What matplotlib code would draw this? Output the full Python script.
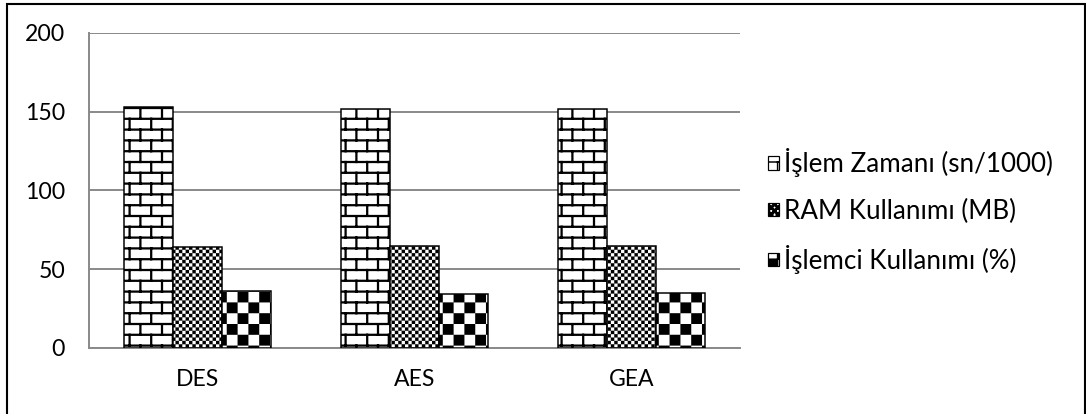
import warnings
warnings.filterwarnings("ignore")
import numpy as np
import matplotlib
matplotlib.use("Agg")
import matplotlib.pyplot as plt
import matplotlib.hatch as mhatch
from matplotlib.path import Path
from matplotlib.patches import Patch, Rectangle

# ---------------- data ----------------
categories = ["DES", "AES", "GEA"]
series_names = ["İşlem Zamanı (sn/1000)", "RAM Kullanımı (MB)", "İşlemci Kullanımı (%)"]
islem_zamani = [153, 151.5, 152]
ram_kullanimi = [64, 65, 65]
islemci_kullanimi = [36, 34, 35]
y_ticks = [0, 50, 100, 150, 200]

# ---------------- custom hatches ----------------
class _SegHatch(mhatch.HatchPatternBase):
    char = None
    def __init__(self, hatch, density):
        self.items = self.build() if (self.char and self.char in hatch) else []
        self.num_vertices = sum(len(it) for it in self.items)
    def set_vertices_and_codes(self, vertices, codes):
        i = 0
        for it in self.items:
            n = len(it)
            vertices[i:i + n] = it
            codes[i:i + n] = self.codes_for(n)
            i += n

class BrickHatch(_SegHatch):
    char = "B"
    def build(self):
        rows, cols = 10, 5
        segs = []
        for k in range(rows + 1):
            y = k / rows
            segs.append([(0, y), (1, y)])
        for k in range(rows):
            off = 0.0 if k % 2 == 0 else 0.5 / cols
            for j in range(cols + 1):
                x = j / cols + off
                if x <= 1.0 + 1e-9:
                    segs.append([(x, k / rows), (x, (k + 1) / rows)])
        return segs
    def codes_for(self, n):
        return [Path.MOVETO, Path.LINETO]

class CheckerHatch(_SegHatch):
    n_cells = 10
    def build(self):
        n = self.n_cells
        s = 1.0 / n
        sq = []
        for i in range(n):
            for j in range(n):
                if (i + j) % 2 == 0:
                    x0, y0 = i * s, j * s
                    sq.append([(x0, y0), (x0 + s, y0), (x0 + s, y0 + s), (x0, y0 + s), (x0, y0)])
        return sq
    def codes_for(self, n):
        return [Path.MOVETO, Path.LINETO, Path.LINETO, Path.LINETO, Path.CLOSEPOLY]

class SmallChecker(CheckerHatch):
    char = "C"
    n_cells = 32

class BigChecker(CheckerHatch):
    char = "K"
    n_cells = 10

mhatch._hatch_types.extend([BrickHatch, SmallChecker, BigChecker])

hatches = ["B", "C", "K"]
hatch_lw = [1.5, 0.05, 0.05]

# ---------------- figure ----------------
DPI = 108
plt.rcParams["font.family"] = ["Lato", "DejaVu Sans"]
fig = plt.figure(figsize=(1086 / DPI, 414 / DPI), dpi=DPI)
ax = fig.add_axes([89 / 1086, 1 - 348 / 414, (740 - 89) / 1086, (348 - 33) / 414])

x = np.arange(len(categories))
w = 0.226
series = [islem_zamani, ram_kullanimi, islemci_kullanimi]
for k, vals in enumerate(series):
    bars = ax.bar(x + (k - 1) * w, vals, width=w, facecolor="white",
                  edgecolor="black", linewidth=1.0, hatch=hatches[k], zorder=3)
    for b in bars:
        if hasattr(b, "set_hatch_linewidth"):
            b.set_hatch_linewidth(hatch_lw[k])

grid_c = "#8a8a8a"
ax.set_xlim(-0.5, len(categories) - 0.5)
ax.set_ylim(0, 200)
ax.set_yticks(y_ticks)
ax.set_xticks(x)
ax.set_xticklabels(categories)
ax.yaxis.grid(True, color=grid_c, linewidth=1.3, zorder=0)
ax.set_axisbelow(True)
for s in ["top", "right"]:
    ax.spines[s].set_visible(False)
for s in ["left", "bottom"]:
    ax.spines[s].set_color(grid_c)
    ax.spines[s].set_linewidth(1.3)
ax.tick_params(axis="both", length=0, labelsize=15.3, colors="black")
ax.tick_params(axis="y", pad=16)
ax.tick_params(axis="x", pad=14)

handles = [Patch(facecolor="white", edgecolor="black", linewidth=0.8, hatch=hatches[k])
           for k in range(3)]
for k, h in enumerate(handles):
    if hasattr(h, "set_hatch_linewidth"):
        h.set_hatch_linewidth(hatch_lw[k])
leg = fig.legend(handles, series_names, loc="center left",
                 bbox_to_anchor=(768 / 1086, 1 - 211 / 414), frameon=False,
                 fontsize=17.3, handlelength=0.42, handleheight=0.42,
                 handletextpad=0.18, labelspacing=0.82, borderaxespad=0,
                 borderpad=0)

# outer frame
fig.add_artist(Rectangle((6.5 / 1086, -0.1), (1084.5 - 6.5) / 1086, 1.1 - 4.5 / 414,
                         transform=fig.transFigure, fill=False, edgecolor="black",
                         linewidth=1.4, clip_on=False))

fig.savefig("out.png", dpi=DPI, facecolor="white")
